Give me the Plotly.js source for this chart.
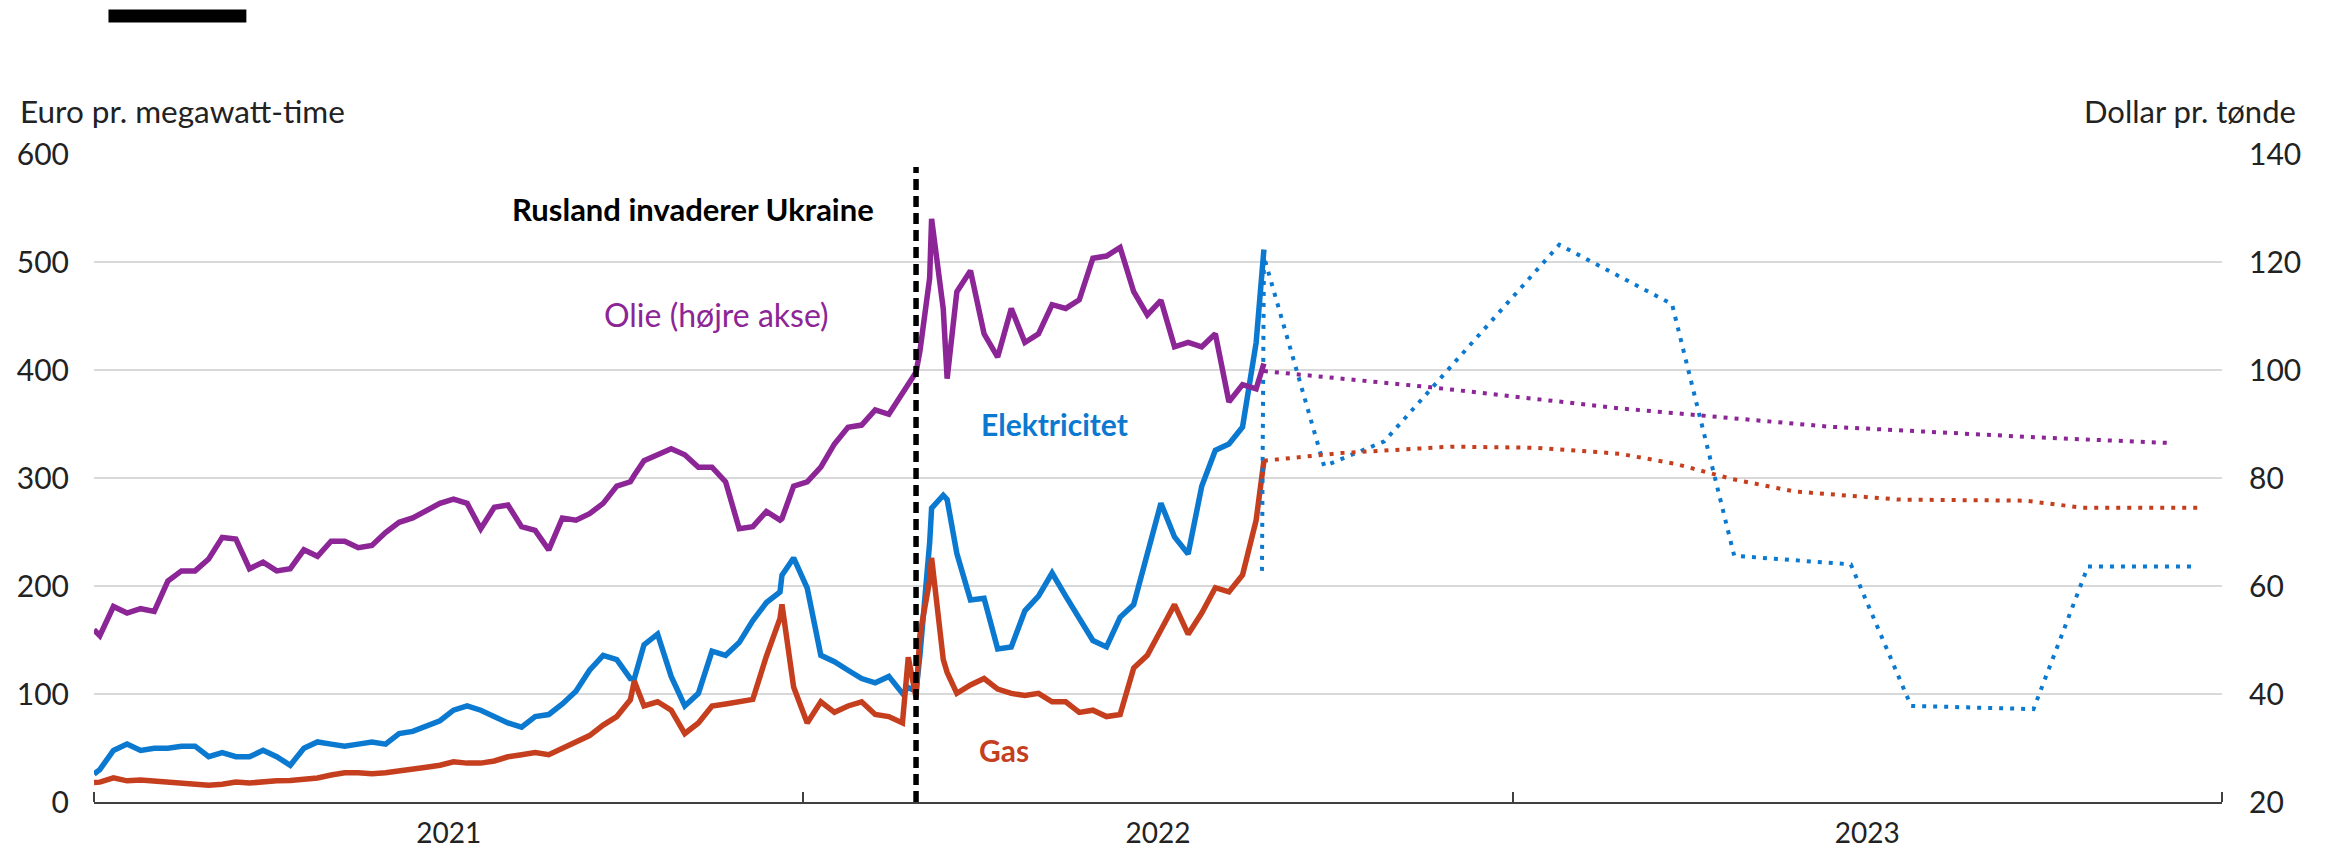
<!DOCTYPE html>
<html>
<head>
<meta charset="utf-8">
<script src="https://cdn.plot.ly/plotly-3.0.1.min.js"></script>
<style>html,body{margin:0;padding:0;background:#fff;}#chart{width:2328px;height:850px;}</style>
</head>
<body>
<div id="chart"></div>
<script>
// ---- Actual series (daily data sampled weekly, plus key spike days) ----
const dates = [
 '2021-01-01','2021-01-04','2021-01-11','2021-01-18','2021-01-25','2021-02-01','2021-02-08','2021-02-15','2021-02-22',
 '2021-03-01','2021-03-08','2021-03-15','2021-03-22','2021-03-29','2021-04-05','2021-04-12','2021-04-19','2021-04-26',
 '2021-05-03','2021-05-10','2021-05-17','2021-05-24','2021-05-31','2021-06-07','2021-06-14','2021-06-21','2021-06-28',
 '2021-07-05','2021-07-12','2021-07-19','2021-07-26','2021-08-02','2021-08-09','2021-08-16','2021-08-23','2021-08-30',
 '2021-09-06','2021-09-13','2021-09-20','2021-09-27','2021-10-04','2021-10-06','2021-10-11','2021-10-18','2021-10-25',
 '2021-11-01','2021-11-08','2021-11-15','2021-11-22','2021-11-29','2021-12-06','2021-12-13','2021-12-20','2021-12-21',
 '2021-12-27','2022-01-03','2022-01-10','2022-01-17','2022-01-24','2022-01-31','2022-02-07','2022-02-14','2022-02-21',
 '2022-02-24','2022-02-28','2022-03-02','2022-03-07','2022-03-08','2022-03-14','2022-03-16','2022-03-21','2022-03-28',
 '2022-04-04','2022-04-11','2022-04-18','2022-04-25','2022-05-02','2022-05-09','2022-05-16','2022-05-23','2022-05-30',
 '2022-06-06','2022-06-13','2022-06-20','2022-06-27','2022-07-04','2022-07-11','2022-07-18','2022-07-25','2022-08-01',
 '2022-08-08','2022-08-15','2022-08-22','2022-08-26'
];
// Oil, dollar per barrel (right axis)
const oil = [
 51.9,50.8,56.2,55.0,55.8,55.3,60.9,62.8,62.8,
 65.0,69.0,68.7,63.2,64.4,62.8,63.2,66.7,65.5,
 68.3,68.3,67.1,67.5,69.9,71.8,72.6,74.0,75.3,
 76.1,75.3,70.6,74.6,75.0,71.0,70.3,66.7,72.6,
 72.2,73.4,75.3,78.5,79.3,80.5,83.2,84.3,85.4,
 84.3,82.0,82.0,79.3,70.6,71.0,73.8,72.2,72.5,
 78.5,79.3,82.0,86.3,89.4,89.8,92.6,91.8,95.7,
 97.0,99.6,103.5,117.0,128.0,111.3,98.4,114.5,118.4,
 106.7,102.4,111.4,105.1,106.7,112.1,111.4,113.0,120.7,
 121.1,122.7,114.5,110.2,112.9,104.3,105.1,104.3,106.7,
 94.1,97.3,96.5,101.2
];
// Electricity, euro per MWh (left axis)
const elec = [
 26,30,47.8,53.6,47.8,49.7,49.7,51.7,51.7,
 41.9,45.8,41.9,41.9,47.8,41.9,34,49.7,55.6,
 53.6,51.7,53.6,55.6,53.6,63.4,65.4,70,75.2,
 85,88.9,85,79.1,73.2,69.3,79.1,81,90.8,
 102.5,122,135.8,131.9,114.3,114,145.6,155.4,116.3,
 88.9,100.6,139.7,135.8,147.6,168,184.7,194.5,210,
 226,198,135.8,129.9,122,114.3,110.4,116.3,100.6,
 106,102.5,136,240,272,284,280,230,187,
 188.7,141.7,143.6,177,190.6,212,190.6,170,149.5,
 143.6,171,182.8,229.7,276.7,245.4,229.7,292.3,325.6,
 331.5,347.2,425.4,511.5
];
// Gas, euro per MWh (left axis)
const gas = [
 18,18.4,22.3,19.6,20.4,19.6,19.2,17.6,16.4,
 15.6,16.4,18.4,17.6,19.2,19.6,20,20.8,22.3,
 25,27,27,26.2,27,28.6,29.4,32.1,34,
 37.2,36,36,38,41.9,43.8,45.8,43.8,49.7,
 55.6,61.5,71.2,79.1,94.7,112,88.9,92.8,85,
 63.4,73.2,88.9,90.8,92.8,95,135,170,183,
 106.5,73.2,92.8,83,88.9,92.8,81.1,79.1,73.2,
 134,96.7,155,205,226,132,120,100.6,108.4,
 114.3,104.5,100.6,98.6,100.6,92.8,92.8,83,85,
 79.1,81,124,135.8,159.3,182.8,155.4,175,198.4,
 194.5,210.2,261,315.8
];

// ---- Futures / forecasts (dotted) ----
const elecFcDates = ['2022-08-25','2022-08-26','2022-09-26','2022-10-27','2023-01-25','2023-03-24','2023-04-25','2023-06-24','2023-07-25','2023-09-26','2023-10-24','2023-12-19'];
const elecFc      = [214, 505, 311, 334, 516, 461, 228, 220, 89, 86, 218, 218];
const gasFcDates  = ['2022-08-26','2022-10-04','2022-11-30','2023-01-13','2023-02-25','2023-03-26','2023-04-24','2023-05-26','2023-07-19','2023-09-22','2023-10-21','2023-12-21'];
const gasFc       = [316, 323, 329, 328, 322.5, 313, 299, 287.5, 280, 279, 272.5, 272.5];
const oilFcDates  = ['2022-08-26','2022-11-20','2023-02-25','2023-06-13','2023-09-29','2023-12-04'];
const oilFc       = [99.8, 96.8, 92.9, 89.5, 87.5, 86.5];

const invasionDate = '2022-02-28';

const C_OIL = '#8C2596', C_EL = '#0B79D0', C_GAS = '#C53F1F';
const FONT = 'Lato, "Open Sans", sans-serif';
const DOT = '4px,7px';

const traces = [
  {x: dates, y: elec, type: 'scatter', mode: 'lines', line: {color: C_EL, width: 5.5}, yaxis: 'y'},
  {x: dates, y: gas,  type: 'scatter', mode: 'lines', line: {color: C_GAS, width: 5.5}, yaxis: 'y'},
  {x: dates, y: oil,  type: 'scatter', mode: 'lines', line: {color: C_OIL, width: 5.5}, yaxis: 'y2'},
  {x: elecFcDates, y: elecFc, type: 'scatter', mode: 'lines', line: {color: C_EL, width: 4, dash: DOT}, yaxis: 'y'},
  {x: gasFcDates,  y: gasFc,  type: 'scatter', mode: 'lines', line: {color: C_GAS, width: 4, dash: DOT}, yaxis: 'y'},
  {x: oilFcDates,  y: oilFc,  type: 'scatter', mode: 'lines', line: {color: C_OIL, width: 4, dash: DOT}, yaxis: 'y2'}
];

const layout = {
  width: 2328, height: 850,
  margin: {l: 94, r: 106, t: 154, b: 48},
  paper_bgcolor: '#fff', plot_bgcolor: '#fff',
  showlegend: false,
  font: {family: FONT, size: 30, color: '#222'},
  xaxis: {
    type: 'date', range: ['2021-01-01', '2024-01-01'],
    tick0: '2021-01-01', dtick: 'M12', tickformat: '%Y', ticklabelmode: 'period',
    ticks: 'inside', ticklen: 10, tickwidth: 2, tickcolor: '#404040',
    showline: true, linecolor: '#404040', linewidth: 2,
    showgrid: false, zeroline: false,
    tickfont: {family: FONT, size: 28, color: '#222'},
    ticklabelstandoff: 5
  },
  yaxis: {
    range: [0, 600], dtick: 100, showgrid: true, gridcolor: '#D9D9D9', gridwidth: 2,
    zeroline: false, showline: false, ticks: '',
    tickfont: {family: FONT, size: 30, color: '#222'},
    ticklabelstandoff: 24
  },
  yaxis2: {
    range: [20, 140], dtick: 20, overlaying: 'y', side: 'right',
    showgrid: false, zeroline: false, showline: false, ticks: '',
    tickfont: {family: FONT, size: 30, color: '#222'},
    ticklabelstandoff: 26
  },
  shapes: [
    {type: 'line', xref: 'x', yref: 'y', x0: invasionDate, x1: invasionDate, y0: 0, y1: 588,
     line: {color: '#000', width: 5.5, dash: '11px,6px'}},
    {type: 'rect', xref: 'paper', yref: 'paper', x0: 0.0068, x1: 0.0716, y0: 1.203, y1: 1.223,
     fillcolor: '#000', line: {width: 0}}
  ],
  annotations: [
    {xref: 'paper', yref: 'paper', x: -0.0356, y: 1.0664, xanchor: 'left', yanchor: 'middle', showarrow: false,
     text: 'Euro pr. megawatt-time', font: {family: FONT, size: 31.5, color: '#222'}},
    {xref: 'paper', yref: 'paper', x: 1.0355, y: 1.0664, xanchor: 'right', yanchor: 'middle', showarrow: false,
     text: 'Dollar pr. tønde', font: {family: FONT, size: 31, color: '#222'}},
    {xref: 'paper', yref: 'paper', x: 0.3676, y: 0.915, xanchor: 'right', yanchor: 'middle', showarrow: false,
     text: '<b>Rusland invaderer Ukraine</b>', font: {family: FONT, size: 31, color: '#000'}},
    {xref: 'paper', yref: 'paper', x: 0.2927, y: 0.752, xanchor: 'center', yanchor: 'middle', showarrow: false,
     text: 'Olie (højre akse)', font: {family: FONT, size: 32, color: C_OIL}},
    {xref: 'paper', yref: 'paper', x: 0.4513, y: 0.5826, xanchor: 'center', yanchor: 'middle', showarrow: false,
     text: '<b>Elektricitet</b>', font: {family: FONT, size: 30, color: C_EL}},
    {xref: 'paper', yref: 'paper', x: 0.4276, y: 0.0802, xanchor: 'center', yanchor: 'middle', showarrow: false,
     text: '<b>Gas</b>', font: {family: FONT, size: 30, color: C_GAS}}
  ]
};

Plotly.newPlot('chart', traces, layout, {staticPlot: true, displayModeBar: false});
</script>
</body>
</html>
